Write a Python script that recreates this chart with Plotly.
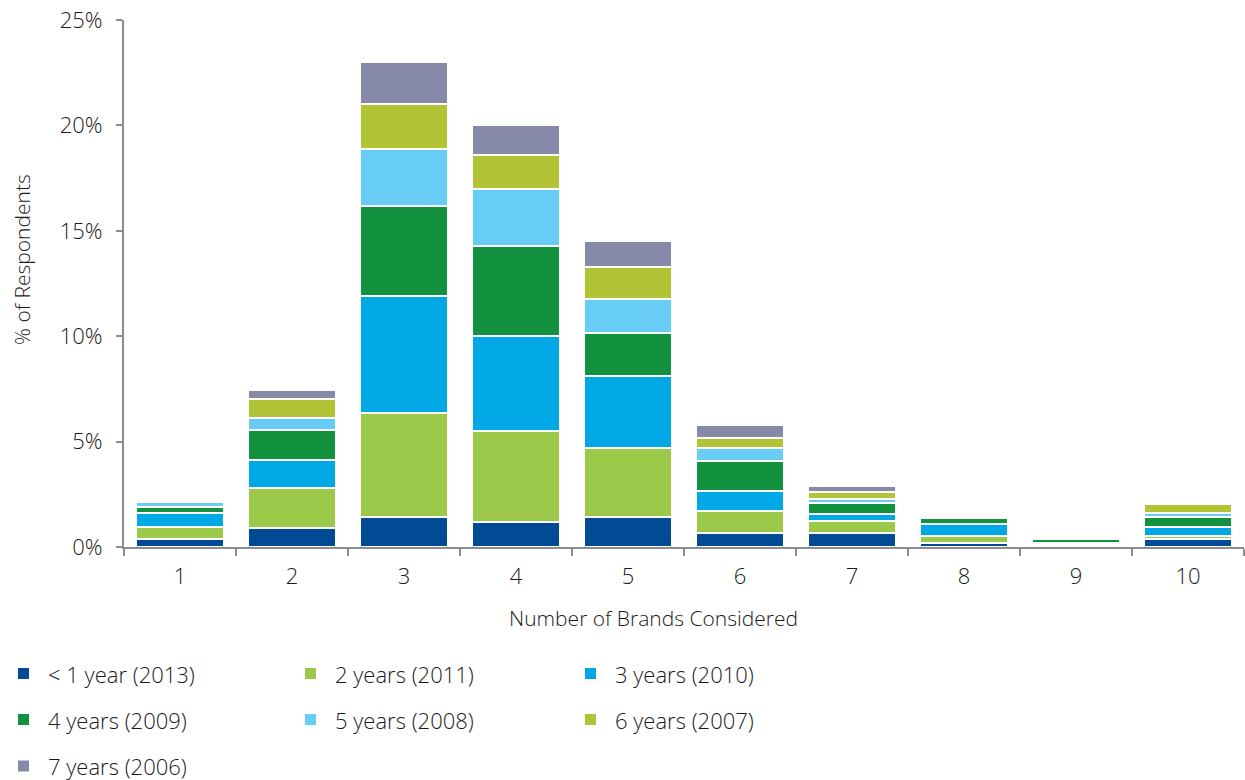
import plotly.graph_objects as go

# Number of brands considered (x categories)
brands = ["1", "2", "3", "4", "5", "6", "7", "8", "9", "10"]

# % of respondents per vehicle-age group, stacked bottom to top
lt1_year_2013 = [0.40, 0.90, 1.40, 1.20, 1.40, 0.65, 0.66, 0.19, 0.00, 0.40]
yrs2_2011     = [0.55, 1.88, 4.95, 4.30, 3.30, 1.07, 0.56, 0.32, 0.10, 0.10]
yrs3_2010     = [0.65, 1.37, 5.55, 4.50, 3.40, 0.95, 0.34, 0.56, 0.10, 0.47]
yrs4_2009     = [0.30, 1.38, 4.30, 4.30, 2.05, 1.40, 0.55, 0.31, 0.17, 0.47]
yrs5_2008     = [0.25, 0.57, 2.70, 2.70, 1.60, 0.62, 0.18, 0.00, 0.00, 0.19]
yrs6_2007     = [0.00, 0.94, 2.10, 1.60, 1.55, 0.49, 0.30, 0.00, 0.00, 0.40]
yrs7_2006     = [0.00, 0.41, 2.00, 1.40, 1.20, 0.60, 0.30, 0.00, 0.00, 0.00]

series_names = ["< 1 year (2013)", "2 years (2011)", "3 years (2010)",
                "4 years (2009)", "5 years (2008)", "6 years (2007)",
                "7 years (2006)"]
series_values = [lt1_year_2013, yrs2_2011, yrs3_2010, yrs4_2009,
                 yrs5_2008, yrs6_2007, yrs7_2006]
series_colors = ["#004B93", "#9DC94B", "#00A9E6", "#12913F",
                 "#67CDF4", "#B3C336", "#8689A8"]

FONT = "Open Sans"
TEXT = "#1a1a1a"
AXIS = "#8c8c8c"
TICK_SIZE = 22
TITLE_SIZE = 21

W, H = 1245, 780
ML, MR, MT, MB = 124, 1, 20, 233
PW, PH = W - ML - MR, H - MT - MB

fig = go.Figure()
for name, vals, col in zip(series_names, series_values, series_colors):
    fig.add_trace(go.Bar(
        x=brands, y=vals, name=name,
        marker=dict(color=col, line=dict(color="white", width=2)),
        showlegend=False,
    ))


def px_to_paper_x(px):
    return (px - ML) / PW


def px_to_paper_y(py):
    return (H - MB - py) / PH


def light(size):
    return dict(family=FONT, size=size, color=TEXT, weight=300)


# Legend laid out in three columns below the chart
col_left = [18, 305, 585]
row_mid = [673.5, 719.5, 766]
sq = 11
for i, (name, col) in enumerate(zip(series_names, series_colors)):
    c, r = i % 3, i // 3
    x0 = col_left[c]
    yc = row_mid[r]
    fig.add_shape(type="rect", xref="paper", yref="paper",
                  x0=px_to_paper_x(x0), x1=px_to_paper_x(x0 + sq),
                  y0=px_to_paper_y(yc + sq / 2), y1=px_to_paper_y(yc - sq / 2),
                  fillcolor=col, line=dict(width=0))
    fig.add_annotation(xref="paper", yref="paper",
                       x=px_to_paper_x(x0 + 28), y=px_to_paper_y(yc),
                       xanchor="left", yanchor="middle", showarrow=False,
                       text=name, font=light(TICK_SIZE))

# Axis titles
fig.add_annotation(xref="paper", yref="paper",
                   x=px_to_paper_x(22), y=px_to_paper_y(260),
                   xanchor="center", yanchor="middle", showarrow=False,
                   textangle=-90, text="% of Respondents",
                   font=light(TITLE_SIZE))
fig.add_annotation(xref="paper", yref="paper",
                   x=px_to_paper_x(653), y=px_to_paper_y(618),
                   xanchor="center", yanchor="middle", showarrow=False,
                   text="Number of Brands Considered",
                   font=light(TITLE_SIZE))

fig.update_layout(
    width=W, height=H,
    margin=dict(l=ML, r=MR, t=MT, b=MB),
    paper_bgcolor="white", plot_bgcolor="white",
    barmode="stack", bargap=0.22,
    font=light(TICK_SIZE),
    xaxis=dict(
        type="category", range=[-0.5, 9.5],
        showline=True, linecolor=AXIS, linewidth=2,
        ticks="outside", tickson="boundaries", ticklen=7, tickwidth=2,
        tickcolor=AXIS, ticklabelstandoff=9,
        tickfont=light(TICK_SIZE),
        showgrid=False, zeroline=False,
    ),
    yaxis=dict(
        range=[0, 25], tickvals=[0, 5, 10, 15, 20, 25],
        ticktext=["0%", "5%", "10%", "15%", "20%", "25%"],
        showline=True, linecolor=AXIS, linewidth=2,
        ticks="outside", ticklen=6, tickwidth=2, tickcolor=AXIS,
        ticklabelstandoff=9,
        tickfont=light(TICK_SIZE),
        showgrid=False, zeroline=False,
    ),
)

fig.write_html("out.html")
